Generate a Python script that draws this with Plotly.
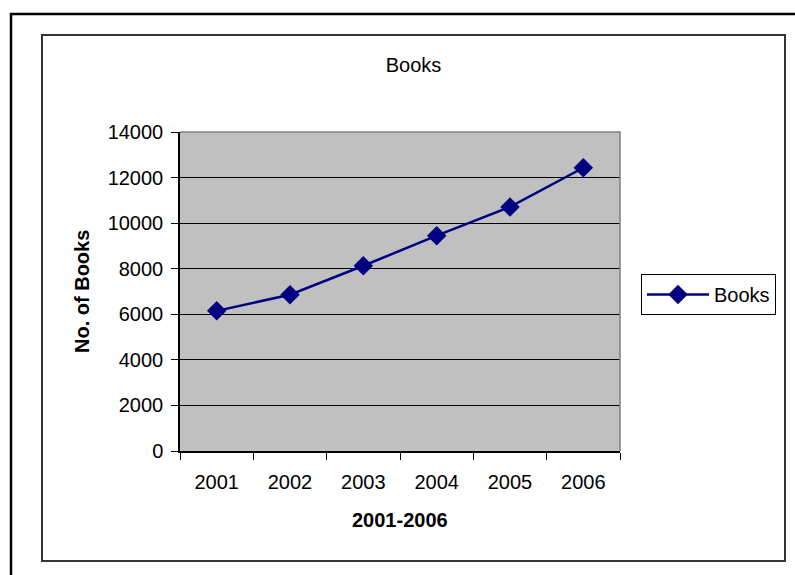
import plotly.graph_objects as go

years = ["2001", "2002", "2003", "2004", "2005", "2006"]
books = [6150, 6860, 8130, 9450, 10710, 12430]
y_ticks = [0, 2000, 4000, 6000, 8000, 10000, 12000, 14000]

W, H = 795, 575
L, R, T, B = 180, 620, 132, 451  # plot area in px


def px(x):
    return (x - L) / (R - L)


def py(y):
    return (B - y) / (B - T)


FONT = "Liberation Sans, Arial, sans-serif"

fig = go.Figure()
fig.add_trace(go.Scatter(
    x=years, y=books, name="Books", mode="lines+markers",
    line=dict(color="#000080", width=2.5),
    marker=dict(symbol="diamond", size=15, color="#000080"),
))

fig.update_layout(
    width=W, height=H,
    margin=dict(l=L, r=W - R, t=T, b=H - B, pad=0),
    paper_bgcolor="white", plot_bgcolor="#C0C0C0",
    font=dict(family=FONT, size=20, color="black"),
    title=dict(text="Books", x=0.5 * (42 + 785) / W, xanchor="center",
               y=1 - 65 / H, yanchor="middle", yref="container",
               font=dict(size=20, color="black")),
    showlegend=True,
    legend=dict(x=px(641), y=py(274), xanchor="left", yanchor="top",
                bordercolor="black", borderwidth=1, bgcolor="white",
                font=dict(size=20), itemwidth=62),
    xaxis=dict(type="category", range=[-0.5, 5.5], showgrid=False,
               tickson="boundaries", ticks="outside", ticklen=7, tickcolor="black",
               showline=True, linecolor="black", linewidth=1.5,
               ticklabelstandoff=12, zeroline=False),
    yaxis=dict(range=[0, 14000], tickvals=y_ticks, tickformat="d",
               ticks="outside", ticklen=7,
               tickcolor="black", showgrid=True, gridcolor="black", gridwidth=1,
               showline=True, linecolor="black", linewidth=1.5,
               ticklabelstandoff=4, zeroline=False),
)

fig.add_annotation(text="<b>2001-2006</b>", x=0.5, y=py(520), xref="paper", yref="paper",
                   showarrow=False, xanchor="center", yanchor="middle", font=dict(size=20))
fig.add_annotation(text="<b>No. of Books</b>", x=px(82), y=py(292), xref="paper", yref="paper",
                   showarrow=False, xanchor="center", yanchor="middle", textangle=-90,
                   font=dict(size=20))

# plot area border (top & right, gray)
fig.add_shape(type="path", xref="paper", yref="paper",
              path="M 0 1 L 1 1 L 1 0", line=dict(color="#808080", width=1.5), layer="above")
# inner chart border
fig.add_shape(type="rect", xref="paper", yref="paper",
              x0=px(42), x1=px(785), y0=py(561), y1=py(35),
              line=dict(color="#333333", width=2), layer="below")
# outer frame (left and top edges)
fig.add_shape(type="path", xref="paper", yref="paper",
              path=f"M {px(11)} {py(585)} L {px(11)} {py(14)} L {px(805)} {py(14)}",
              line=dict(color="black", width=2.5), layer="below")

fig.write_html("out.html")
